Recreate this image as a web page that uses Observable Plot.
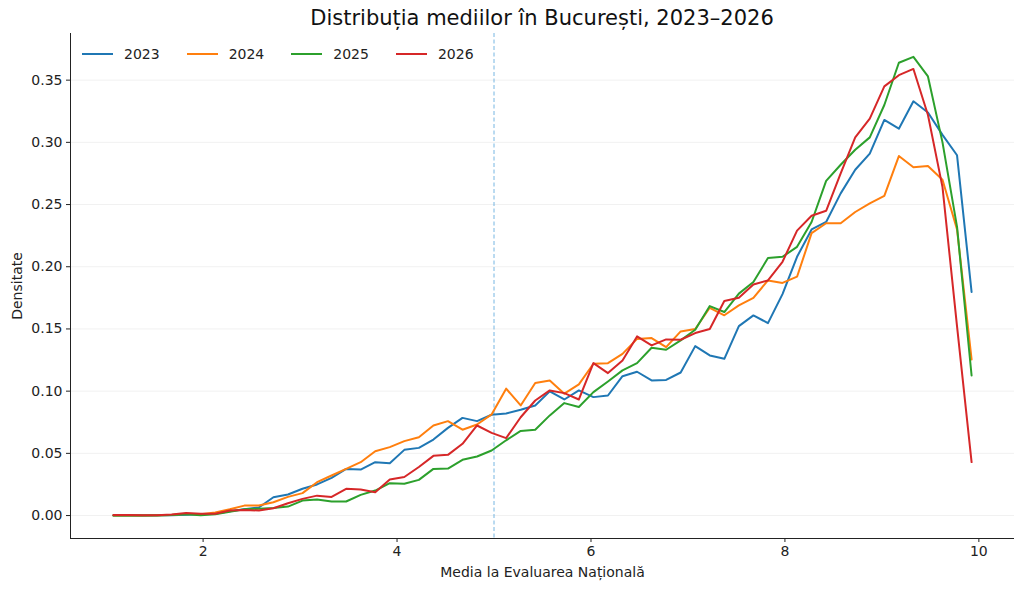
<!DOCTYPE html>
<html>
<head>
<meta charset="utf-8">
<script src="https://cdn.jsdelivr.net/npm/d3@7"></script>
<script src="https://cdn.jsdelivr.net/npm/@observablehq/plot@0.6"></script>
<style>
  html, body { margin: 0; padding: 0; background: #fff; }
  body { width: 1024px; height: 591px; position: relative; overflow: hidden; font-family: "DejaVu Sans", sans-serif; }
  #title { height: 33px; width: 1024px; position: relative; }
  #title span { position: absolute; left: 542px; top: 6px; transform: translateX(-50%); font-size: 21px; color: #111; white-space: nowrap; }
  #legend { position: absolute; left: 82px; top: 46px; display: flex; font-size: 14px; color: #222; }
  .item { display: flex; align-items: center; margin-right: 27px; }
  .sw { width: 31px; height: 2.4px; margin-right: 11px; }
</style>
</head>
<body>
<div id="title"><span>Distribuția mediilor în București, 2023–2026</span></div>
<div id="chart"></div>
<div id="legend"></div>
<script>
const years = ["2023", "2024", "2025", "2026"];
const colors = ["#1f77b4", "#ff7f0e", "#2ca02c", "#d62728"];

const binCenters = [1.075, 1.225, 1.375, 1.525, 1.675, 1.825, 1.975, 2.125, 2.275, 2.425,
  2.575, 2.725, 2.875, 3.025, 3.175, 3.325, 3.475, 3.625, 3.775, 3.925,
  4.075, 4.225, 4.375, 4.525, 4.675, 4.825, 4.975, 5.125, 5.275, 5.425,
  5.575, 5.725, 5.875, 6.025, 6.175, 6.325, 6.475, 6.625, 6.775, 6.925,
  7.075, 7.225, 7.375, 7.525, 7.675, 7.825, 7.975, 8.125, 8.275, 8.425,
  8.575, 8.725, 8.875, 9.025, 9.175, 9.325, 9.475, 9.625, 9.775, 9.925];

const d2023 = [0.0000, 0.0000, 0.0000, 0.0002, 0.0003, 0.0007, 0.0010, 0.0015, 0.0035, 0.0050,
  0.0065, 0.0147, 0.0169, 0.0215, 0.0250, 0.0303, 0.0375, 0.0370, 0.0429, 0.0420,
  0.0528, 0.0544, 0.0611, 0.0705, 0.0785, 0.0759, 0.0810, 0.0820, 0.0850, 0.0885,
  0.0998, 0.0933, 0.1006, 0.0952, 0.0965, 0.1120, 0.1156, 0.1086, 0.1090, 0.1150,
  0.1362, 0.1287, 0.1260, 0.1523, 0.1609, 0.1547, 0.1780, 0.2080, 0.2300, 0.2360,
  0.2590, 0.2780, 0.2910, 0.3180, 0.3110, 0.3330, 0.3240, 0.3060, 0.2896, 0.1797];

const d2024 = [0.0000, 0.0000, 0.0000, 0.0002, 0.0005, 0.0015, 0.0010, 0.0025, 0.0050, 0.0080,
  0.0080, 0.0107, 0.0150, 0.0180, 0.0268, 0.0322, 0.0375, 0.0429, 0.0517, 0.0550,
  0.0598, 0.0630, 0.0724, 0.0759, 0.0690, 0.0732, 0.0813, 0.1020, 0.0885, 0.1065,
  0.1086, 0.0980, 0.1054, 0.1220, 0.1225, 0.1300, 0.1420, 0.1427, 0.1354, 0.1480,
  0.1500, 0.1670, 0.1610, 0.1690, 0.1750, 0.1890, 0.1870, 0.1920, 0.2270, 0.2350,
  0.2350, 0.2440, 0.2510, 0.2570, 0.2890, 0.2800, 0.2810, 0.2700, 0.2300, 0.1255];

const d2025 = [0.0000, 0.0000, 0.0000, 0.0000, 0.0005, 0.0010, 0.0002, 0.0010, 0.0030, 0.0050,
  0.0055, 0.0060, 0.0072, 0.0120, 0.0129, 0.0113, 0.0113, 0.0166, 0.0201, 0.0260,
  0.0255, 0.0287, 0.0375, 0.0378, 0.0448, 0.0475, 0.0523, 0.0605, 0.0680, 0.0690,
  0.0805, 0.0904, 0.0872, 0.0992, 0.1078, 0.1167, 0.1225, 0.1349, 0.1333, 0.1408,
  0.1494, 0.1684, 0.1636, 0.1784, 0.1877, 0.2070, 0.2080, 0.2160, 0.2360, 0.2690,
  0.2820, 0.2940, 0.3040, 0.3300, 0.3640, 0.3687, 0.3530, 0.3000, 0.2320, 0.1126];

const d2026 = [0.0005, 0.0005, 0.0002, 0.0002, 0.0008, 0.0020, 0.0015, 0.0015, 0.0040, 0.0045,
  0.0040, 0.0059, 0.0099, 0.0134, 0.0160, 0.0150, 0.0215, 0.0210, 0.0188, 0.0290,
  0.0310, 0.0390, 0.0480, 0.0488, 0.0577, 0.0724, 0.0665, 0.0622, 0.0790, 0.0925,
  0.1006, 0.0984, 0.0933, 0.1225, 0.1145, 0.1247, 0.1440, 0.1368, 0.1416, 0.1413,
  0.1467, 0.1500, 0.1724, 0.1750, 0.1858, 0.1890, 0.2040, 0.2290, 0.2410, 0.2450,
  0.2750, 0.3040, 0.3190, 0.3450, 0.3540, 0.3590, 0.3220, 0.2640, 0.1520, 0.0430];

const xTicks = [2, 4, 6, 8, 10];
const yTicks = [0, 0.05, 0.10, 0.15, 0.20, 0.25, 0.30, 0.35];
const thresholdX = [5];
const xDomain = [0.6325, 10.3675];
const yDomain = [-0.01845, 0.3875];

const series = [d2023, d2024, d2025, d2026];
const rows = [];
series.forEach((vals, k) => vals.forEach((v, i) => rows.push({year: years[k], x: binCenters[i], y: v})));

const chart = Plot.plot({
  width: 1024,
  height: 558,
  marginLeft: 70,
  marginRight: 10,
  marginTop: 0,
  marginBottom: 53,
  style: {fontFamily: "DejaVu Sans, sans-serif", fontSize: "14px", color: "#222", background: "white", overflow: "visible"},
  x: {domain: xDomain, ticks: xTicks, tickFormat: d => String(d), tickSize: 4, tickPadding: 4,
      label: "Media la Evaluarea Națională", labelAnchor: "center", labelOffset: 38, labelArrow: "none"},
  y: {domain: yDomain, ticks: yTicks, tickFormat: d => d.toFixed(2), tickSize: 4, tickPadding: 4,
      label: "Densitate", labelAnchor: "center", labelOffset: 58, labelArrow: "none"},
  color: {domain: years, range: colors},
  marks: [
    Plot.gridY(yTicks, {stroke: "#000", strokeOpacity: 0.06, strokeWidth: 1}),
    Plot.ruleX(thresholdX, {stroke: "#4a9fd8", strokeOpacity: 0.75, strokeWidth: 1, strokeDasharray: "4,2.5"}),
    Plot.line(rows, {x: "x", y: "y", z: "year", stroke: "year", strokeWidth: 2, strokeLinejoin: "round"}),
    Plot.ruleX([xDomain[0]], {stroke: "#222", strokeWidth: 1}),
    Plot.ruleY([yDomain[0]], {stroke: "#222", strokeWidth: 1})
  ]
});
document.getElementById("chart").appendChild(chart);

const legend = document.getElementById("legend");
years.forEach((y, k) => {
  const it = document.createElement("div");
  it.className = "item";
  const sw = document.createElement("div");
  sw.className = "sw";
  sw.style.background = colors[k];
  const t = document.createElement("span");
  t.textContent = y;
  it.appendChild(sw);
  it.appendChild(t);
  legend.appendChild(it);
});
</script>
</body>
</html>
